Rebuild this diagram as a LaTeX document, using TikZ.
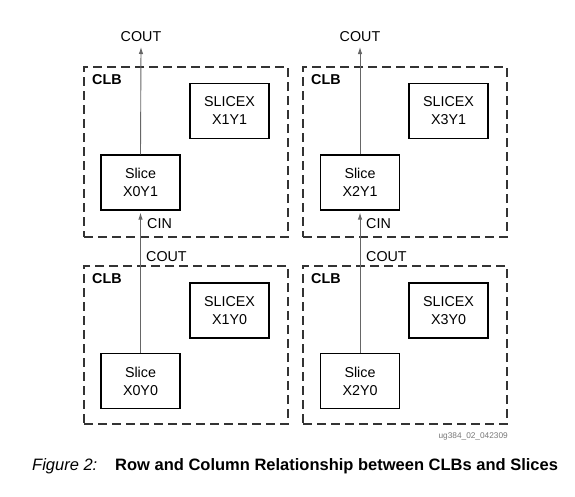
\documentclass[tikz,border=0pt]{standalone}
\usepackage{fontspec}
\setmainfont{Liberation Sans}
\usetikzlibrary{arrows.meta}
\definecolor{dashgray}{HTML}{333333}
\definecolor{wiregray}{HTML}{666666}
\definecolor{idgray}{HTML}{777777}
\begin{document}
\begin{tikzpicture}[x=1pt,y=-1pt,
  clbbox/.style={draw=dashgray,line width=1.3pt,dash pattern=on 9pt off 5pt,inner sep=0pt,minimum width=204pt},
  slicebox/.style={draw=black,line width=1.2pt,inner sep=0pt,minimum width=79pt,minimum height=55pt,align=center,font=\fontsize{14.3}{18}\selectfont},
  lbl/.style={inner sep=0pt,font=\fontsize{14.3}{18}\selectfont},
  clblbl/.style={inner sep=0pt,anchor=west,font=\fontsize{14.3}{18}\selectfont\bfseries},
  wire/.style={draw=wiregray,line width=0.9pt,-{Latex[length=7pt,width=4.5pt]}}]
\useasboundingbox (0,0) rectangle (575,496);
% CLB boxes
\node[clbbox,minimum height=170pt] (clbA) at (186,152) {};
\node[clbbox,minimum height=170pt] (clbB) at (405,152) {};
\node[clbbox,minimum height=158pt] (clbC) at (186,345) {};
\node[clbbox,minimum height=158pt] (clbD) at (405,345) {};
\node[clblbl] (lA) at (92,80) {CLB};
\node[clblbl] (lB) at (311,80) {CLB};
\node[clblbl] (lC) at (92,279) {CLB};
\node[clblbl] (lD) at (311,279) {CLB};
% slices
\node[slicebox] (s01) at (140.5,182.5) {Slice\\X0Y1};
\node[slicebox] (s00) at (140.5,381) {Slice\\X0Y0};
\node[slicebox] (s21) at (360,182.5) {Slice\\X2Y1};
\node[slicebox] (s20) at (360,381) {Slice\\X2Y0};
\node[slicebox] (x11) at (229.5,111) {SLICEX\\X1Y1};
\node[slicebox] (x10) at (229.5,310.5) {SLICEX\\X1Y0};
\node[slicebox] (x31) at (448.5,111) {SLICEX\\X3Y1};
\node[slicebox] (x30) at (448.5,310.5) {SLICEX\\X3Y0};
% labels
\node[lbl] (coutA) at (141,37) {COUT};
\node[lbl] (coutB) at (360,37) {COUT};
\coordinate (tipA) at (141,47);
\coordinate (tipB) at (360,47);
\node[lbl,anchor=west] (cinA) at (147,224) {CIN};
\node[lbl,anchor=west] (cinB) at (366,224) {CIN};
\node[lbl,anchor=west] (coutC) at (146,257) {COUT};
\node[lbl,anchor=west] (coutD) at (366,257) {COUT};
% wires
\draw[wire] (s01.north) -- (tipA);
\draw[wire] (s21.north) -- (tipB);
\draw[wire,shorten >=2pt] (s00.north) -- (s01.south);
\draw[wire,shorten >=2pt] (s20.north) -- (s21.south);
% footer
\node[inner sep=0pt,anchor=east,text=idgray,font=\fontsize{8.3}{10}\selectfont] (fid) at (508,436) {ug384\_02\_042309};
\node[inner sep=0pt,anchor=west,font=\fontsize{16.5}{20}\selectfont\itshape] (fig) at (32,466) {Figure 2:};
\node[inner sep=0pt,anchor=west,font=\fontsize{16.5}{20}\selectfont\bfseries] (cap) at (115,466) {Row and Column Relationship between CLBs and Slices};
\end{tikzpicture}
\end{document}
